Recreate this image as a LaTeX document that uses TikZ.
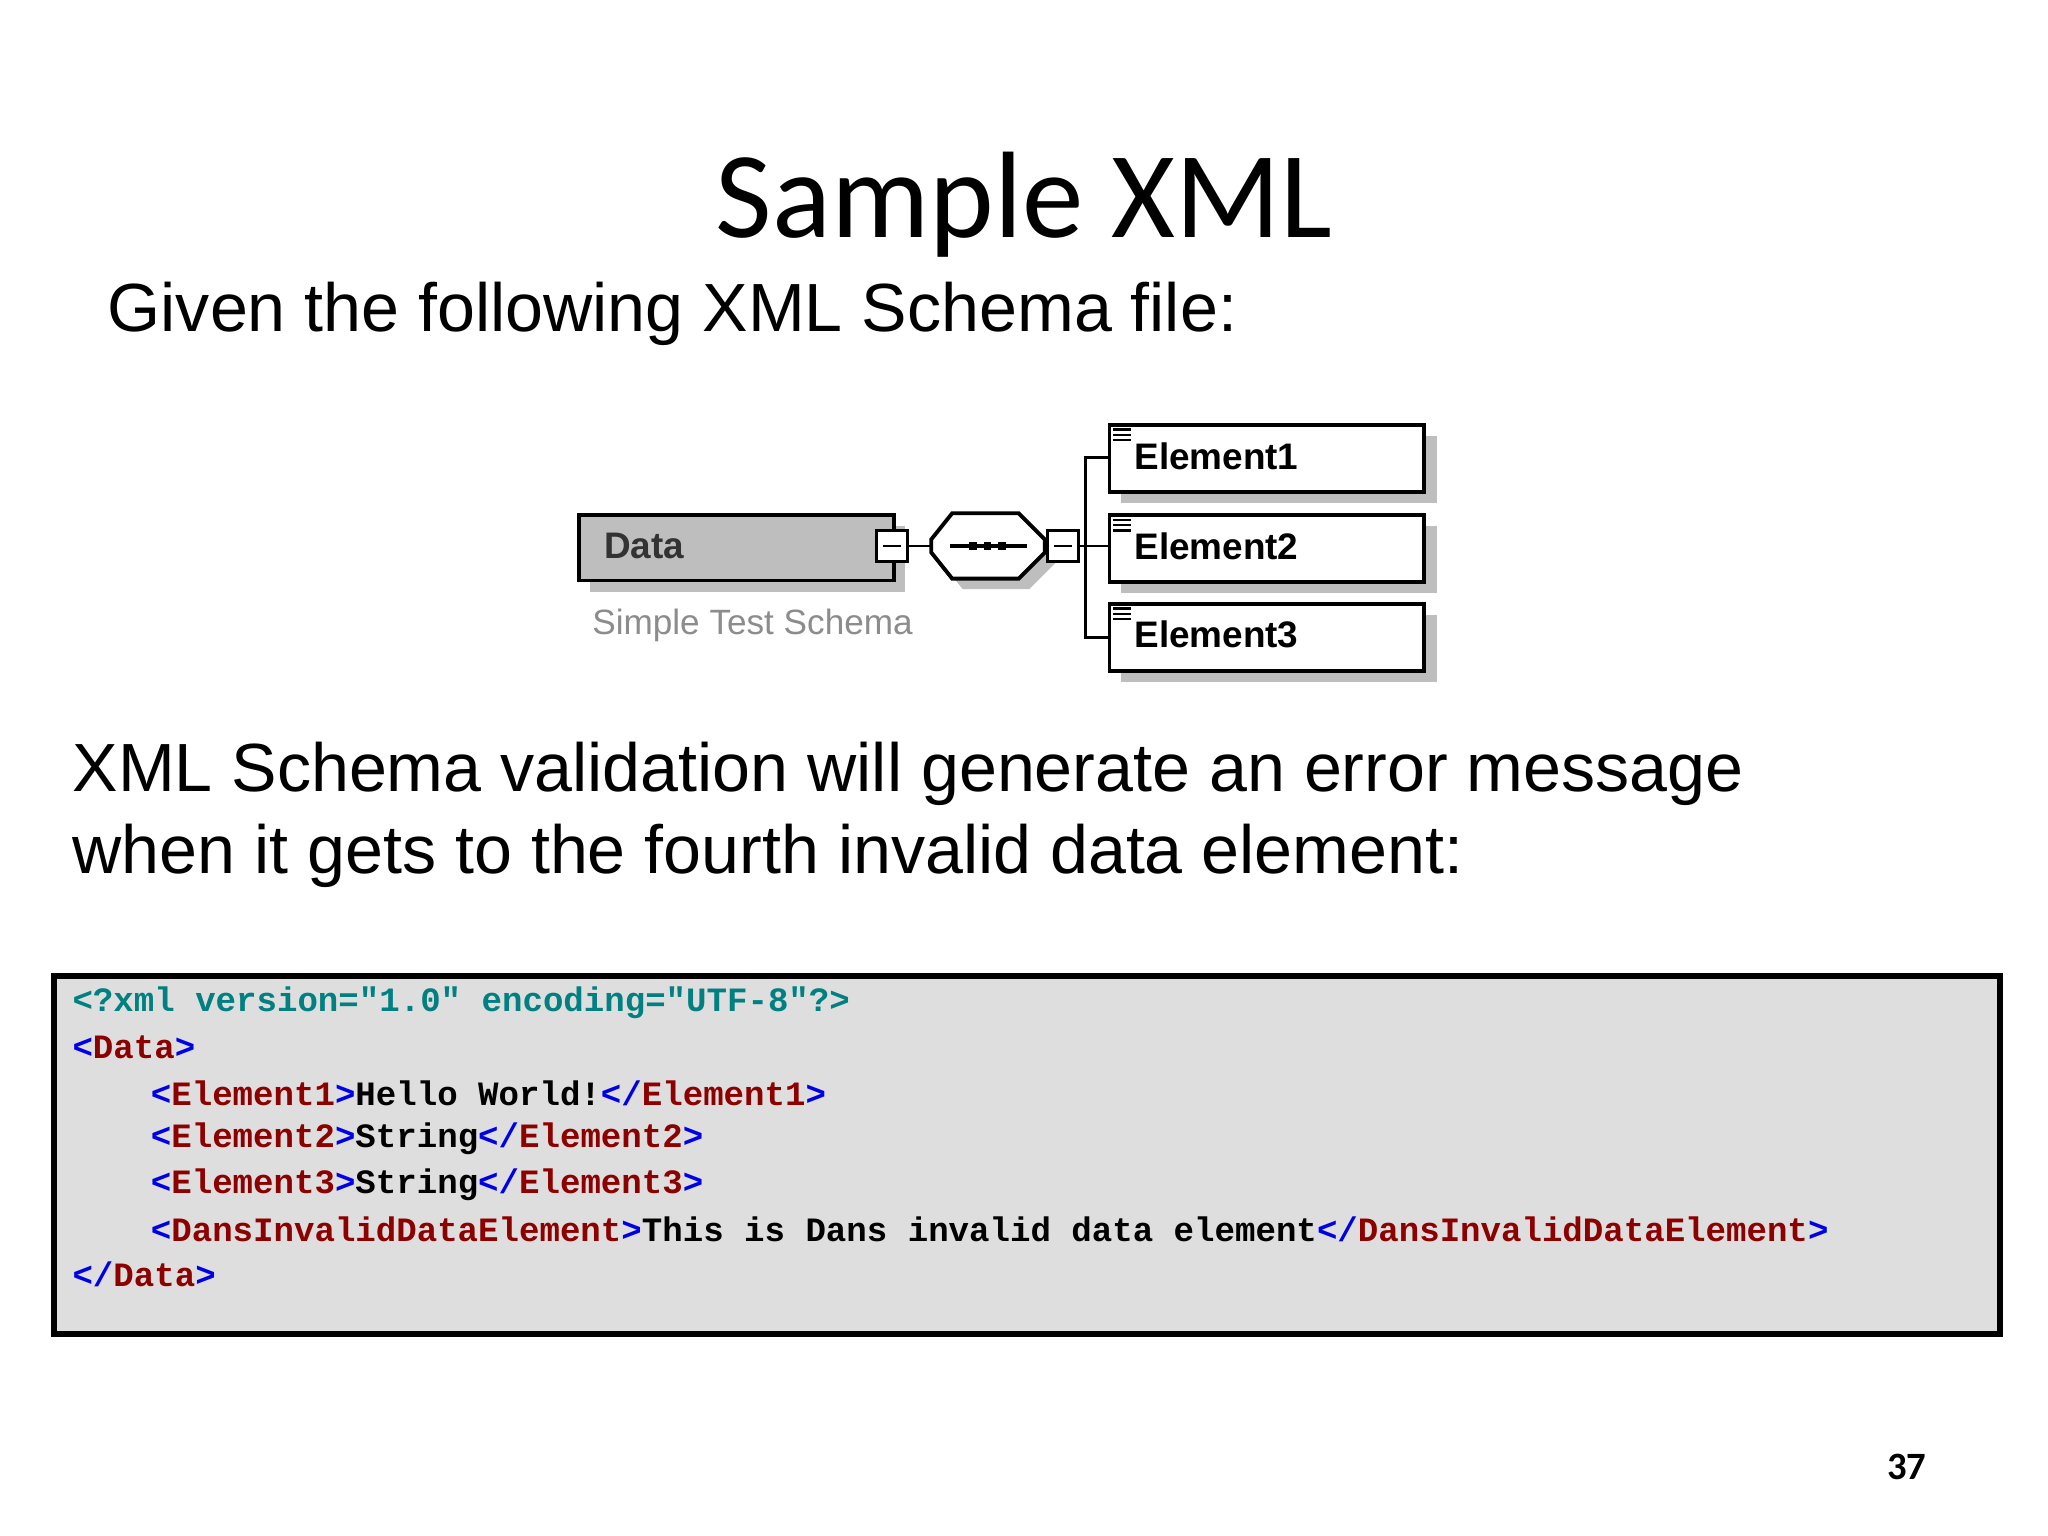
\documentclass[tikz,border=0pt]{standalone}
\usepackage{fontspec}
\setmainfont{Liberation Sans}
\newfontfamily\titlefont{Carlito}
\newfontfamily\codefont{Liberation Mono}
\definecolor{pi}{RGB}{0,128,128}
\definecolor{br}{RGB}{0,0,230}
\definecolor{nm}{RGB}{140,0,0}
\definecolor{shd}{RGB}{190,190,190}
\newcommand{\tB}[1]{\textcolor{br}{#1}}
\newcommand{\tN}[1]{\textcolor{nm}{#1}}
\begin{document}
\begin{tikzpicture}[x=0.01306cm,y=-0.01306cm,
  codeline/.style={anchor=west,inner sep=0,font=\codefont\bfseries\fontsize{9.7pt}{11pt}\selectfont},
  elbox/.style={draw,line width=1.1pt,fill=white,minimum width=241*0.01306cm,minimum height=51*0.01306cm,inner sep=0},
  minusbox/.style={draw,line width=0.8pt,fill=white,minimum size=24*0.01306cm,inner sep=0},
  lbl/.style={font=\bfseries\fontsize{10.5pt}{12pt}\selectfont,anchor=west,inner sep=0}]
\useasboundingbox (0,0) rectangle (1568,1176);
\fill[white] (0,0) rectangle (1568,1176);
\node[font=\titlefont\fontsize{35pt}{40pt}\selectfont] (title) at (784,157) {Sample XML};
\node[anchor=west,inner sep=0,font=\fontsize{19.4pt}{24pt}\selectfont] (given) at (82,240) {Given the following XML Schema file:};
% schema
\fill[shd] (452,403) rectangle (693,453);
\node[draw,line width=1.1pt,fill=shd,minimum width=241*0.01306cm,minimum height=50*0.01306cm,anchor=north west,inner sep=0] (data) at (442,393) {};
\node[lbl,text=black!80] (datat) at (462,418) {Data};
\node[inner sep=0,anchor=west,text=black!45,font=\fontsize{10pt}{12pt}\selectfont] (sts) at (453,479) {Simple Test Schema};
\node[minusbox] (m1) at (683,418) {};
\draw[line width=0.8pt] (676,418) -- (690,418);
% sequence octagon
\fill[shd] (737,401) -- (788,401) -- (808,421) -- (808,431) -- (788,451) -- (737,451) -- (721,431) -- (721,421) -- cycle;
\draw[line width=1.1pt,fill=white] (729,393) -- (780,393) -- (800,413) -- (800,423) -- (780,443) -- (729,443) -- (713,423) -- (713,413) -- cycle;
\coordinate (seqw) at (713,418);
\coordinate (seqe) at (800,418);
\draw[line width=1.1pt] (727,418) -- (786,418);
\foreach \x in {745,756,767} \fill (\x-3,415) rectangle (\x+3,421);
\draw[line width=0.8pt] (m1.east) -- (seqw);
\node[minusbox] (m2) at (814,418) {};
\draw[line width=0.8pt] (807,418) -- (821,418);
\draw[line width=0.8pt] (m2.east) -- (848,418);
% elements
\foreach \n/\y in {1/324,2/393,3/461}{
  \fill[shd] (858,\y+10) rectangle (1100,\y+61);
  \node[elbox,anchor=north west] (e\n) at (848,\y) {};
  \foreach \k in {0,1,2} \draw[line width=0.7pt] (852,\y+5+\k*4) -- (866,\y+5+\k*4);
  \node[lbl] (e\n t) at (868,\y+25) {Element\n};
}
\draw[line width=0.8pt] (848,350) -- (831,350) -- (831,488) -- (848,488);
% text
\node[anchor=west,inner sep=0,align=left,font=\fontsize{19.4pt}{23.5pt}\selectfont] (msg) at (55,624) {XML Schema validation will generate an error message\\when it gets to the fourth invalid data element:};
% code
\node[draw,line width=1.6pt,fill=black!13,minimum width=1490*0.01306cm,minimum height=274*0.01306cm,anchor=north west] (code) at (39,745) {};
\node[codeline,text=pi] (l1) at (55,768) {<?xml version="1.0" encoding="UTF-8"?>};
\node[codeline] (l2) at (55,802) {\tB{<}\tN{Data}\tB{>}};
\node[codeline] (l3) at (115,837) {\tB{<}\tN{Element1}\tB{>}Hello World!\tB{</}\tN{Element1}\tB{>}};
\node[codeline] (l4) at (115,872) {\tB{<}\tN{Element2}\tB{>}String\tB{</}\tN{Element2}\tB{>}};
\node[codeline] (l5) at (115,907) {\tB{<}\tN{Element3}\tB{>}String\tB{</}\tN{Element3}\tB{>}};
\node[codeline] (l6) at (115,941) {\tB{<}\tN{DansInvalidDataElement}\tB{>}This is Dans invalid data element\tB{</}\tN{DansInvalidDataElement}\tB{>}};
\node[codeline] (l7) at (55,976) {\tB{</}\tN{Data}\tB{>}};
\node[font=\titlefont\bfseries\fontsize{11pt}{13pt}\selectfont] (pg) at (1460,1123) {37};
\end{tikzpicture}
\end{document}
